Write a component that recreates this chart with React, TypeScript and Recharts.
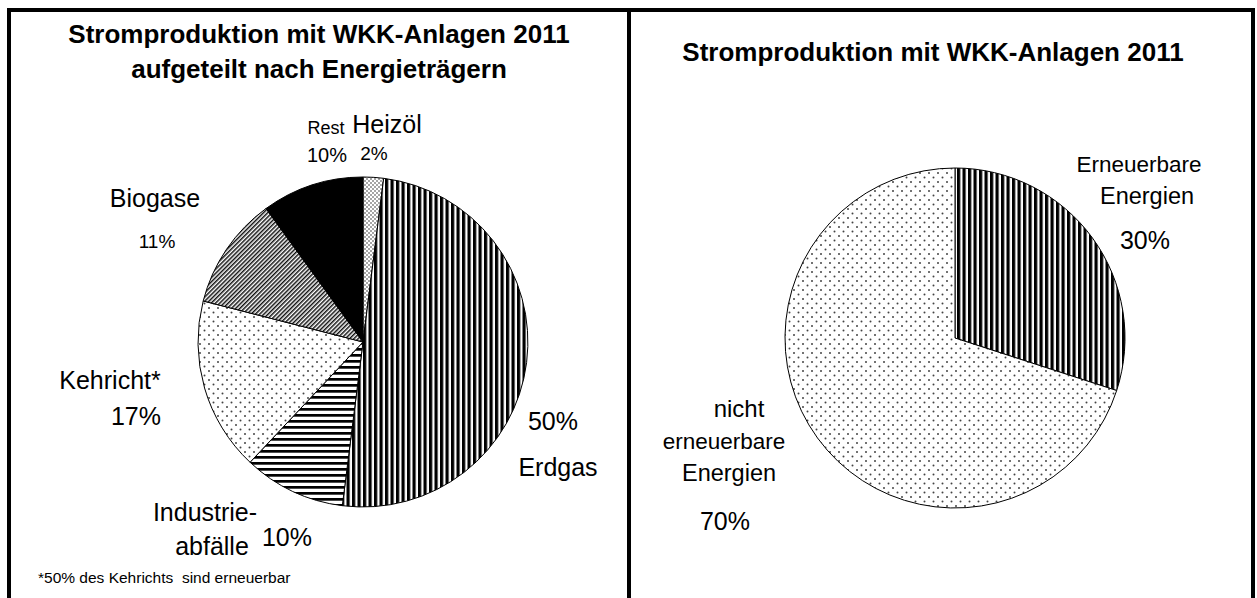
import React from 'react';
import { PieChart, Pie, Cell } from 'recharts';

// ---------- data ----------
const leftCategories = ['Heizöl', 'Erdgas', 'Industrieabfälle', 'Kehricht*', 'Biogase', 'Rest'];
const leftValues = [2, 50, 10, 17, 11, 10];
const leftPatterns = ['dotsDense', 'vStripes', 'hStripes', 'dotsSparse', 'diag', 'solid'];

const rightCategories = ['Erneuerbare Energien', 'nicht erneuerbare Energien'];
const rightValues = [30, 70];
const rightPatterns = ['vStripes', 'dotsSparse'];

const leftTitle = ['Stromproduktion mit WKK-Anlagen 2011', 'aufgeteilt nach Energieträgern'];
const rightTitle = 'Stromproduktion mit WKK-Anlagen 2011';
const footnote = '*50% des Kehrichts  sind erneuerbar';

const leftData = leftCategories.map((name, i) => ({ name, value: leftValues[i], pattern: leftPatterns[i] }));
const rightData = rightCategories.map((name, i) => ({ name, value: rightValues[i], pattern: rightPatterns[i] }));

// ---------- layout ----------
const W = 1257;
const H = 598;
const FONT = '"Liberation Sans", Arial, sans-serif';

type Lbl = { t: string; x: number; y: number; s: number; a?: 'start' | 'middle' | 'end' };
const labels: Lbl[] = [
  { t: 'Rest', x: 326, y: 134, s: 18 },
  { t: '10%', x: 327, y: 162, s: 20 },
  { t: 'Heizöl', x: 387, y: 133, s: 25 },
  { t: '2%', x: 374, y: 160, s: 19 },
  { t: 'Biogase', x: 155, y: 207, s: 25 },
  { t: '11%', x: 157, y: 248, s: 19 },
  { t: 'Kehricht*', x: 110, y: 389, s: 25 },
  { t: '17%', x: 136, y: 425, s: 25 },
  { t: 'Industrie-', x: 205, y: 521, s: 25 },
  { t: 'abfälle', x: 212, y: 555, s: 25 },
  { t: '10%', x: 287, y: 546, s: 25 },
  { t: '50%', x: 553, y: 430, s: 25 },
  { t: 'Erdgas', x: 558, y: 476, s: 25 },
  { t: 'Erneuerbare', x: 1139, y: 172, s: 22.5 },
  { t: 'Energien', x: 1147, y: 204, s: 23.5 },
  { t: '30%', x: 1145, y: 249, s: 25 },
  { t: 'nicht', x: 739, y: 417, s: 24 },
  { t: 'erneuerbare', x: 724, y: 449, s: 22.5 },
  { t: 'Energien', x: 729, y: 481, s: 23.5 },
  { t: '70%', x: 725, y: 530, s: 25 },
];

function Patterns() {
  return (
    <svg width={0} height={0} style={{ position: 'absolute' }}>
      <defs>
        <pattern id="dotsDense" width={4} height={4} patternUnits="userSpaceOnUse">
          <rect width={4} height={4} fill="#fff" />
          <circle cx={1} cy={1} r={0.8} fill="#333" />
          <circle cx={3} cy={3} r={0.8} fill="#333" />
        </pattern>
        <pattern id="dotsSparse" width={9} height={9} patternUnits="userSpaceOnUse">
          <rect width={9} height={9} fill="#fff" />
          <circle cx={2} cy={2} r={1} fill="#444" />
          <circle cx={6.5} cy={6.5} r={1} fill="#444" />
        </pattern>
        <pattern id="vStripes" width={5.5} height={5.5} patternUnits="userSpaceOnUse">
          <rect width={5.5} height={5.5} fill="#fff" />
          <rect x={0} width={3.2} height={5.5} fill="#000" />
        </pattern>
        <pattern id="hStripes" width={6} height={6} patternUnits="userSpaceOnUse">
          <rect width={6} height={6} fill="#fff" />
          <rect y={0} width={6} height={2.7} fill="#000" />
        </pattern>
        <pattern id="diag" width={3} height={3} patternUnits="userSpaceOnUse" patternTransform="rotate(45)">
          <rect width={3} height={3} fill="#fff" />
          <rect x={0} width={1.5} height={3} fill="#111" />
        </pattern>
        <pattern id="solid" width={4} height={4} patternUnits="userSpaceOnUse">
          <rect width={4} height={4} fill="#000" />
        </pattern>
      </defs>
    </svg>
  );
}

export default function App() {
  return (
    <div style={{ position: 'absolute', left: 0, top: 0, width: W, height: H, background: '#fff', overflow: 'hidden' }}>
      <Patterns />
      <div style={{ position: 'absolute', left: 0, top: 0 }}>
        <PieChart width={W} height={H} margin={{ top: 0, right: 0, bottom: 0, left: 0 }}>
          <Pie
            data={leftData}
            dataKey="value"
            nameKey="name"
            cx={363}
            cy={342}
            outerRadius={165}
            innerRadius={0}
            startAngle={90}
            endAngle={-270}
            stroke="#000"
            strokeWidth={1}
            isAnimationActive={false}
            label={false}
            labelLine={false}
          >
            {leftData.map((d, i) => (
              <Cell key={i} fill={`url(#${d.pattern})`} />
            ))}
          </Pie>
          <Pie
            data={rightData}
            dataKey="value"
            nameKey="name"
            cx={955}
            cy={338}
            outerRadius={170}
            innerRadius={0}
            startAngle={90}
            endAngle={-270}
            stroke="#000"
            strokeWidth={1}
            isAnimationActive={false}
            label={false}
            labelLine={false}
          >
            {rightData.map((d, i) => (
              <Cell key={i} fill={`url(#${d.pattern})`} />
            ))}
          </Pie>
        </PieChart>
      </div>
      <svg width={W} height={H} style={{ position: 'absolute', left: 0, top: 0, pointerEvents: 'none' }}>
        {/* frame */}
        <line x1={9} y1={8} x2={9} y2={H} stroke="#000" strokeWidth={4} />
        <line x1={7} y1={10} x2={1255} y2={10} stroke="#000" strokeWidth={4} />
        <line x1={629} y1={10} x2={629} y2={H} stroke="#000" strokeWidth={4} />
        <line x1={1253} y1={8} x2={1253} y2={H} stroke="#000" strokeWidth={4} />
        {/* titles */}
        <text x={319} y={43} textAnchor="middle" fontFamily={FONT} fontWeight="bold" fontSize={26} fill="#000">
          {leftTitle[0]}
        </text>
        <text x={319} y={78} textAnchor="middle" fontFamily={FONT} fontWeight="bold" fontSize={26} fill="#000">
          {leftTitle[1]}
        </text>
        <text x={933} y={61} textAnchor="middle" fontFamily={FONT} fontWeight="bold" fontSize={26} fill="#000">
          {rightTitle}
        </text>
        {labels.map((l, i) => (
          <text key={i} x={l.x} y={l.y} textAnchor={l.a || 'middle'} fontFamily={FONT} fontSize={l.s} fill="#000">
            {l.t}
          </text>
        ))}
        <text x={38} y={583} fontFamily={FONT} fontSize={15.5} fill="#000" style={{ whiteSpace: 'pre' }}>
          {footnote}
        </text>
      </svg>
    </div>
  );
}
